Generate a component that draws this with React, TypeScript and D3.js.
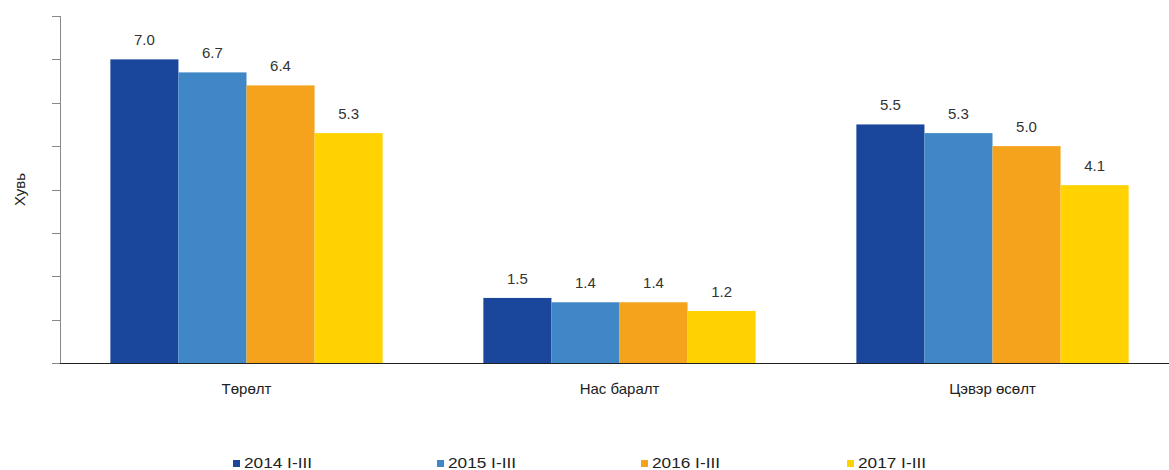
import React from "react";
import * as d3 from "d3";

const categories = ["Төрөлт", "Нас баралт", "Цэвэр өсөлт"];
const seriesNames = ["2014 I-III", "2015 I-III", "2016 I-III", "2017 I-III"];
const values2014 = [7.0, 1.5, 5.5];
const values2015 = [6.7, 1.4, 5.3];
const values2016 = [6.4, 1.4, 5.0];
const values2017 = [5.3, 1.2, 4.1];
const yTicks = [0, 1, 2, 3, 4, 5, 6, 7, 8];
const colors = ["#1a479c", "#3f87c6", "#f5a21d", "#ffd200"];

const series = [values2014, values2015, values2016, values2017];

export default function App() {
  const W = 1169, H = 470;
  const x0 = 60, x1 = 1179;
  const yBase = 363, yTop = 16;
  const x = d3.scaleBand<string>().domain(categories).range([x0, x1]).paddingInner(0).paddingOuter(0);
  const inner = d3.scaleBand<string>().domain(seriesNames).range([0, x.bandwidth()]).paddingInner(0).paddingOuter(0.74);
  const y = d3.scaleLinear().domain([0, 8]).range([yBase, yTop]);
  const font = "Arial, 'Liberation Sans', sans-serif";
  const legendX = [233, 437, 641, 847];

  return (
    <svg width={W} height={H} style={{ position: "absolute", left: 0, top: 0 }}>
      <rect width={W} height={H} fill="#fff" />
      {/* y axis */}
      <line x1={x0 + 0.5} x2={x0 + 0.5} y1={yTop} y2={yBase} stroke="#888" strokeWidth={1} />
      {yTicks.map((t) => (
        <line key={t} x1={x0 - 8} x2={x0} y1={Math.round(y(t)) + 0.5} y2={Math.round(y(t)) + 0.5} stroke="#888" />
      ))}
      <text transform={`translate(25,${(yTop + yBase) / 2}) rotate(-90)`} textAnchor="middle" fontFamily={font} fontSize={15} fill="#222">Хувь</text>
      {/* bars */}
      {categories.map((c, ci) => (
        <g key={c}>
          {series.map((s, si) => {
            const bx = (x(c) as number) + (inner(seriesNames[si]) as number);
            const bw = inner.bandwidth();
            const by = y(s[ci]);
            return (
              <g key={si}>
                <rect x={bx} y={by} width={bw} height={yBase - by} fill={colors[si]} />
                <text x={bx + bw / 2} y={by - 14} textAnchor="middle" fontFamily={font} fontSize={15} fill="#333">{s[ci].toFixed(1)}</text>
              </g>
            );
          })}
          <text x={(x(c) as number) + x.bandwidth() / 2} y={394} textAnchor="middle" fontFamily={font} fontSize={15} fill="#222">{c}</text>
        </g>
      ))}
      {/* baseline */}
      <line x1={x0} x2={W} y1={yBase + 0.5} y2={yBase + 0.5} stroke="#222" strokeWidth={1.2} />
      {/* legend */}
      {seriesNames.map((n, i) => (
        <g key={n}>
          <rect x={legendX[i]} y={460} width={7} height={7} fill={colors[i]} />
          <text x={legendX[i] + 11} y={468} fontFamily={font} fontSize={14} fill="#222" textLength={68} lengthAdjust="spacingAndGlyphs">{n}</text>
        </g>
      ))}
    </svg>
  );
}
